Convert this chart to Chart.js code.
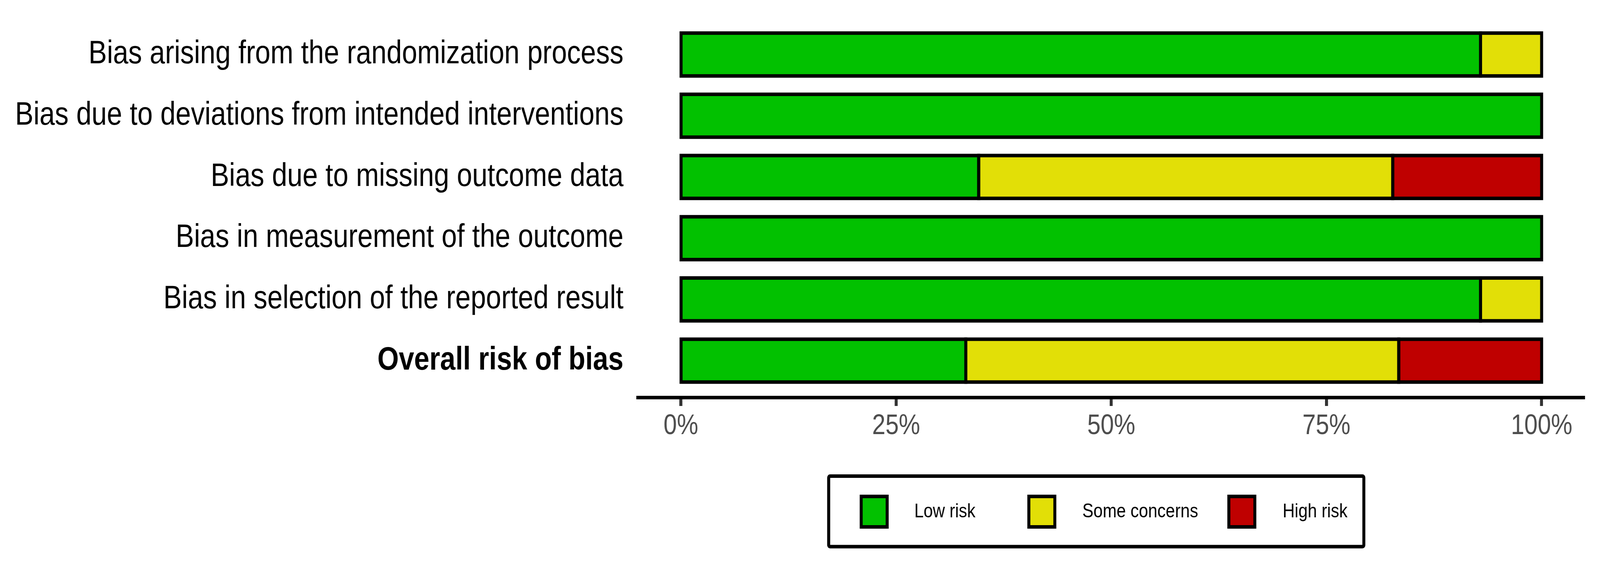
<!DOCTYPE html>
<html>
<head>
<meta charset="utf-8">
<script src="https://cdn.jsdelivr.net/npm/chart.js@4.4.1/dist/chart.umd.min.js"></script>
<style>
  html, body { margin: 0; padding: 0; background: #fff; overflow: hidden; }
  #wrap { overflow: hidden; }
  #chart { display: block; transform-origin: 0 0; }
</style>
</head>
<body>
<div id="wrap">
<canvas id="chart" width="4800" height="1446" style="width:4800px;height:1446px"></canvas>
</div>
<script>
// Domains (top to bottom)
const categories = [
  "Bias arising from the randomization process",
  "Bias due to deviations from intended interventions",
  "Bias due to missing outcome data",
  "Bias in measurement of the outcome",
  "Bias in selection of the reported result",
  "Overall risk of bias"
];

// Percent of studies per judgement
const lowRisk      = [92.9, 100, 34.6, 100, 92.9, 33.1];
const someConcerns = [7.1,   0,  48.1,   0,  7.1, 50.3];
const highRisk     = [0,     0,  17.3,   0,    0, 16.6];

const xTicks = [0, 25, 50, 75, 100];

const seriesNames = ["Low risk", "Some concerns", "High risk"];
const seriesColors = ["#02C100", "#E2DF07", "#BF0000"];
const seriesValues = [lowRisk, someConcerns, highRisk];

const W = 4800, H = 1446;
const FONT = "'Liberation Sans', Arial, Helvetica, sans-serif";

// fit the 4800x1446 drawing into whatever viewport we actually get
const canvas = document.getElementById("chart");
let sx = window.innerWidth / W;
let sy = window.innerHeight / H;
if (!(sx > 0)) sx = 1;
if (!(sy > 0)) sy = sx;
const wrap = document.getElementById("wrap");
wrap.style.width = W * sx + "px";
wrap.style.height = H * sy + "px";
canvas.style.transform = "scale(" + sx + "," + sy + ")";

const datasets = seriesNames.map((name, s) => ({
  label: name,
  data: seriesValues[s].map((v, i) => ({ x: v, y: i })),
  backgroundColor: seriesColors[s],
  borderWidth: 0,
  barPercentage: 0.7,
  categoryPercentage: 1
}));

// black outline around every segment, centred on its edge like ggplot does
const outlinePlugin = {
  id: "outline",
  afterDatasetsDraw(chart) {
    const ctx = chart.ctx;
    ctx.save();
    ctx.strokeStyle = "#000";
    ctx.lineWidth = 9;
    chart.data.datasets.forEach((ds, d) => {
      chart.getDatasetMeta(d).data.forEach((el, i) => {
        if (!ds.data[i].x) return;
        const p = el.getProps(["x", "y", "base", "height"], true);
        const left = Math.min(p.x, p.base);
        const w = Math.abs(p.x - p.base);
        ctx.strokeRect(left, p.y - p.height / 2, w, p.height);
      });
    });
    ctx.restore();
  }
};

// boxed legend below the axis
const legendBox = {
  id: "legendBox",
  afterDraw(chart) {
    const ctx = chart.ctx;
    const keyX = [2583.5, 3086.5, 3686.5];
    const textX = [2743, 3247, 3848];
    const keyY = 1270.5, keySize = 78;
    ctx.save();
    ctx.lineWidth = 9;
    ctx.strokeStyle = "#000";
    ctx.beginPath();
    ctx.roundRect(2486, 1218.5, 1605.5, 180.5, 4);
    ctx.stroke();
    ctx.font = "50px " + FONT;
    ctx.textBaseline = "middle";
    ctx.textAlign = "left";
    chart.data.datasets.forEach((ds, i) => {
      ctx.fillStyle = ds.backgroundColor;
      ctx.fillRect(keyX[i], keyY, keySize, keySize);
      ctx.strokeRect(keyX[i], keyY, keySize, keySize);
      ctx.fillStyle = "#000";
      ctx.fillText(ds.label, textX[i], keyY + keySize / 2 + 1);
    });
    ctx.restore();
  }
};

const noEdgePadding = scale => {
  scale.paddingTop = 0;
  scale.paddingBottom = 0;
  scale.paddingLeft = 0;
  scale.paddingRight = 0;
};

new Chart(canvas, {
  type: "bar",
  data: { datasets },
  plugins: [outlinePlugin, legendBox],
  options: {
    indexAxis: "y",
    responsive: false,
    devicePixelRatio: 1,
    animation: false,
    layout: { padding: { top: 45.5, right: 46, left: 0, bottom: 0 } },
    plugins: {
      legend: { display: false },
      tooltip: { enabled: false }
    },
    scales: {
      x: {
        type: "linear",
        min: -5,
        max: 105,
        stacked: true,
        afterBuildTicks: axis => { axis.ticks = xTicks.map(v => ({ value: v })); },
        afterFit: scale => { scale.height = H - 1017; noEdgePadding(scale); },
        grid: {
          drawOnChartArea: false,
          drawTicks: true,
          tickLength: 22,
          tickWidth: 9,
          tickColor: "#333333"
        },
        border: { display: true, color: "#000", width: 9 },
        ticks: {
          padding: 9,
          maxRotation: 0,
          autoSkip: false,
          color: "#4D4D4D",
          font: { size: 72, family: FONT },
          callback: v => v + "%"
        }
      },
      y: {
        type: "linear",
        min: -0.6,
        max: 5.6,
        reverse: true,
        stacked: true,
        offset: false,
        afterBuildTicks: axis => { axis.ticks = categories.map((c, i) => ({ value: i })); },
        afterFit: scale => { scale.width = 1913.5; noEdgePadding(scale); },
        grid: { display: false, offset: false },
        border: { display: false },
        ticks: {
          padding: 35,
          autoSkip: false,
          color: "#000",
          font: ctx => ({
            size: 82.5,
            family: FONT,
            weight: ctx.tick && ctx.tick.value === categories.length - 1 ? "bold" : "normal"
          }),
          callback: v => categories[v]
        }
      }
    }
  }
});
</script>
</body>
</html>
